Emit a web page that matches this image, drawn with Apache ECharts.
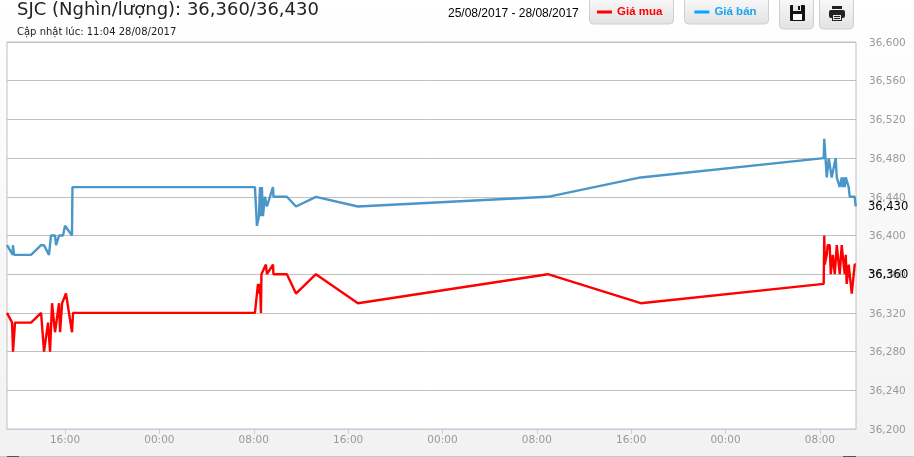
<!DOCTYPE html>
<html>
<head>
<meta charset="utf-8">
<style>
html, body { margin: 0; padding: 0; background: #fff; }
#main { width: 914px; height: 457px; }
</style>
</head>
<body>
<div id="main"></div>
<script src="https://cdn.jsdelivr.net/npm/echarts@6/dist/echarts.min.js"></script>
<script>
// x values are hours counted from 25/08/2017 00:00
var sellHours = [11.08, 11.17, 11.57, 11.58, 11.68, 13.12, 13.97, 14.22, 14.64, 14.81, 15.15, 15.24, 15.49, 15.83, 16.0, 16.59, 16.63,
    32.10, 32.27, 32.44, 32.53, 32.61, 32.69, 32.78, 32.95, 33.12, 33.37, 33.63, 33.67, 34.81, 35.58, 37.27, 40.83, 56.93, 64.81,
    80.32, 80.37, 80.58, 80.75, 81.0, 81.34, 81.43, 81.68, 81.85, 81.93, 82.02, 82.1, 82.19, 82.44, 82.53, 82.95, 83.04];
var sellPrices = [36390, 36390, 36380, 36390, 36380, 36380, 36390, 36390, 36380, 36400, 36400, 36390, 36400, 36400, 36410, 36400, 36450,
    36450, 36410, 36420, 36450, 36420, 36450, 36420, 36440, 36430, 36440, 36450, 36440, 36440, 36430, 36440, 36430, 36440, 36460,
    36480, 36500, 36460, 36480, 36460, 36480, 36460, 36450, 36460, 36450, 36460, 36450, 36460, 36450, 36440, 36440, 36430];
var buyHours = [11.08, 11.51, 11.59, 11.76, 13.12, 13.97, 14.13, 14.22, 14.56, 14.73, 14.9, 15.15, 15.49, 15.58, 15.75, 16.08, 16.59, 16.68,
    32.10, 32.36, 32.44, 32.53, 32.61, 32.65, 32.78, 33.03, 33.12, 33.63, 33.67, 34.81, 35.58, 37.27, 40.83, 56.93, 64.81,
    80.32, 80.37, 80.41, 80.58, 80.66, 80.83, 80.92, 81.09, 81.26, 81.43, 81.6, 81.68, 81.85, 81.93, 82.1, 82.19, 82.27, 82.44, 82.7, 82.95, 83.04];
var buyPrices = [36320, 36310, 36280, 36310, 36310, 36320, 36320, 36280, 36310, 36280, 36330, 36300, 36330, 36300, 36330, 36340, 36300, 36320,
    36320, 36350, 36340, 36350, 36320, 36360, 36360, 36370, 36360, 36370, 36360, 36360, 36340, 36360, 36330, 36360, 36330,
    36350, 36400, 36370, 36380, 36390, 36390, 36360, 36380, 36360, 36390, 36370, 36360, 36390, 36380, 36360, 36380, 36350, 36370, 36340, 36370, 36370];
var xTickHours = [16, 24, 32, 40, 48, 56, 64, 72, 80];
var lastSell = 36430;
var lastBuy = 36360;
var hourMin = 11.08;
var hourMax = 83.06;

function zip(xs, ys) {
    return xs.map(function (x, i) { return [x, ys[i]]; });
}
function price(v) {
    return String(v).replace(/(\d)(\d{3})$/, '$1,$2');
}
function lastMark(value) {
    return {
        symbol: 'circle',
        symbolSize: 0,
        silent: true,
        data: [{ coord: [hourMax, value] }],
        label: {
            show: true,
            position: 'right',
            distance: 12,
            offset: [0, 1],
            color: '#000',
            fontFamily: 'DejaVu Sans',
            fontSize: 11.5,
            formatter: price(value)
        }
    };
}
function button(x, w, h) {
    return {
        type: 'rect', z: 1,
        shape: { x: x, y: -3, width: w, height: h + 3, r: 4 },
        style: {
            fill: new echarts.graphic.LinearGradient(0, 0, 0, 1, [
                { offset: 0, color: '#fafafa' }, { offset: 1, color: '#e2e2e2' }
            ]),
            stroke: '#cfcfcf', lineWidth: 1
        }
    };
}
function text(x, y, str, size, family, color) {
    return {
        type: 'text', z: 5, x: x, y: y,
        style: { text: str, fontSize: size, fontFamily: family, fill: color, verticalAlign: 'middle' }
    };
}
function box(x, y, w, h, fill, r) {
    return { type: 'rect', z: 5, shape: { x: x, y: y, width: w, height: h, r: r || 0 }, style: { fill: fill } };
}

var chart = echarts.init(document.getElementById('main'));

chart.setOption({
    animation: false,
    backgroundColor: new echarts.graphic.LinearGradient(0, 0, 0, 1, [
        { offset: 0, color: '#ffffff' }, { offset: 1, color: '#f2f2f2' }
    ]),
    grid: {
        left: 7, right: 58, top: 42, bottom: 28,
        show: true, backgroundColor: '#fff', borderColor: '#c0c0c0', borderWidth: 1
    },
    legend: {
        left: 597, top: 6, padding: 0,
        itemWidth: 15, itemHeight: 3, itemGap: 32,
        icon: 'rect',
        selectedMode: false,
        textStyle: { fontFamily: 'Liberation Sans', fontWeight: 'bold', fontSize: 11.5 },
        data: [
            { name: 'Giá mua', itemStyle: { color: '#ff0000' }, textStyle: { color: '#ff0000' } },
            { name: 'Giá bán', itemStyle: { color: '#00a8ff' }, textStyle: { color: '#1ba3ee' } }
        ]
    },
    xAxis: {
        type: 'value',
        min: hourMin, max: hourMax,
        splitLine: { show: false },
        axisLine: { show: true, onZero: false, lineStyle: { color: '#c0d0e0' } },
        axisTick: { show: true, length: 5, lineStyle: { color: '#c0d0e0' }, customValues: xTickHours },
        axisLabel: {
            customValues: xTickHours,
            color: '#999', fontFamily: 'DejaVu Sans', fontSize: 10.5, margin: 6,
            formatter: function (v) {
                var h = v % 24;
                return (h < 10 ? '0' : '') + h + ':00';
            }
        }
    },
    yAxis: {
        type: 'value',
        position: 'right',
        min: 36200, max: 36600, interval: 40,
        axisLine: { show: false },
        axisTick: { show: false },
        splitLine: { lineStyle: { color: '#c0c0c0', width: 1 } },
        axisLabel: {
            color: '#999', fontFamily: 'DejaVu Sans', fontSize: 10.5, margin: 13,
            verticalAlign: 'top', lineHeight: 2,
            formatter: price
        }
    },
    series: [
        {
            name: 'Giá mua', type: 'line', showSymbol: false, z: 3,
            lineStyle: { color: '#ff0000', width: 2.4 }, itemStyle: { color: '#ff0000' },
            data: zip(buyHours, buyPrices), markPoint: lastMark(lastBuy)
        },
        {
            name: 'Giá bán', type: 'line', showSymbol: false, z: 3,
            lineStyle: { color: '#4b96c8', width: 2.4 }, itemStyle: { color: '#4b96c8' },
            data: zip(sellHours, sellPrices), markPoint: lastMark(lastSell)
        }
    ],
    graphic: [
        text(17, 10, 'SJC (Nghìn/lượng): 36,360/36,430', 18, 'DejaVu Sans', '#222'),
        text(17, 32, 'Cập nhật lúc: 11:04 28/08/2017', 10, 'DejaVu Sans', '#222'),
        text(448, 14, '25/08/2017 - 28/08/2017', 12, 'Liberation Sans', '#000'),
        button(589.5, 84, 24),
        button(684.5, 84, 24),
        button(779.5, 34, 29),
        button(819.5, 34, 29),
        // save icon
        box(790, 5, 15, 16, '#111', 1),
        box(793, 5, 8, 6, '#e8e8e8'),
        box(798, 6, 2, 4, '#111'),
        box(793, 14, 9, 6, '#fafafa'),
        // print icon
        box(832, 6, 10, 3, '#222'),
        box(829, 10, 16, 8, '#222', 2),
        box(832, 14, 10, 7, '#222'),
        box(833, 15, 8, 5, '#e8e8e8'),
        box(834, 16, 6, 1, '#222'),
        box(834, 18, 6, 1, '#222'),
        { type: 'rect', z: 1, shape: { x: 0, y: 456, width: 914, height: 1 }, style: { fill: '#c8c8c8' } },
        { type: 'rect', z: 2, shape: { x: 7, y: 456, width: 12, height: 1 }, style: { fill: '#555' } },
        { type: 'rect', z: 2, shape: { x: 843, y: 456, width: 13, height: 1 }, style: { fill: '#555' } }
    ]
});
</script>
</body>
</html>
